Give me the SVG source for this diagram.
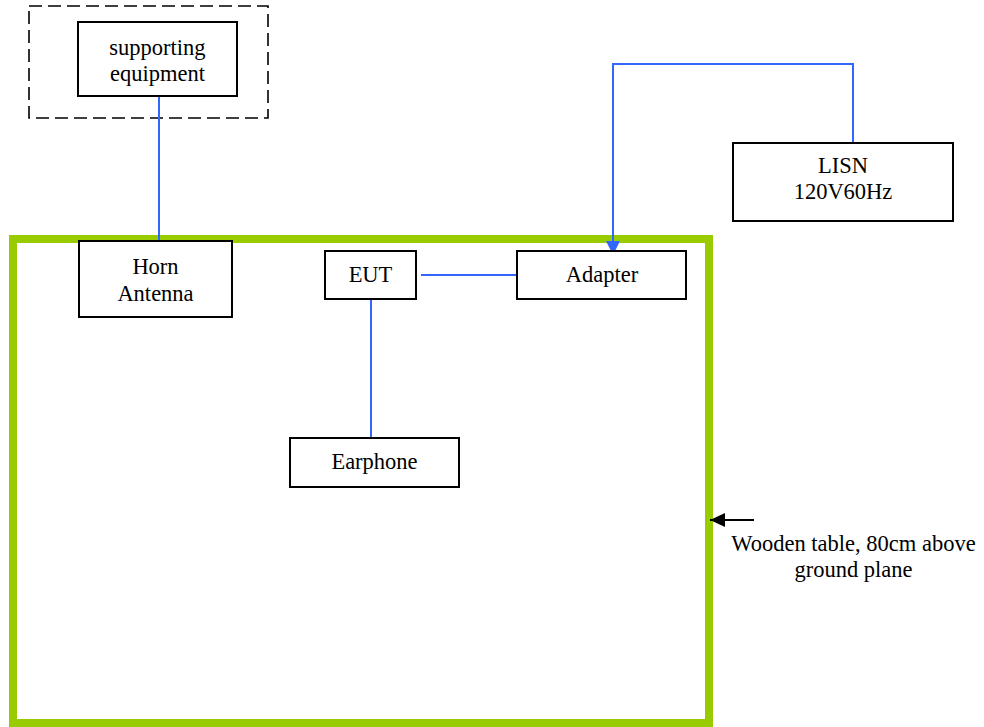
<svg xmlns="http://www.w3.org/2000/svg" width="984" height="727" viewBox="0 0 984 727">
<style>
.box{fill:#fff;stroke:#000;stroke-width:2}
.t{font-family:"Liberation Serif","Times New Roman",serif;font-size:22.5px;fill:#000;text-anchor:middle}
.c{fill:none;stroke:#3366FF;stroke-width:2}
</style>
<defs>
<marker id="ab" markerWidth="14" markerHeight="16" refX="14" refY="8" orient="auto" markerUnits="userSpaceOnUse">
<path d="M0,1 L14,8 L0,15 Z" fill="#3366FF"/>
</marker>
<marker id="ak" markerWidth="15" markerHeight="16" refX="15" refY="8" orient="auto" markerUnits="userSpaceOnUse">
<path d="M0,1 L15,8 L0,15 Z" fill="#000"/>
</marker>
</defs>
<rect width="984" height="727" fill="#fff"/>
<g id="table">
<rect x="13" y="239" width="696" height="484" fill="none" stroke="#99CC00" stroke-width="8"/>
</g>
<g id="support-area">
<rect x="29" y="6" width="239" height="112" fill="none" stroke="#000" stroke-width="1.6" stroke-dasharray="13,6"/>
</g>
<g id="connectors">
<line class="c" x1="159" y1="96" x2="159" y2="241"/>
<polyline class="c" points="853,143 853,64 613,64 613,255" marker-end="url(#ab)"/>
<line class="c" x1="421" y1="275" x2="517" y2="275"/>
<line class="c" x1="371" y1="299" x2="371" y2="438"/>
<line x1="754" y1="520" x2="710" y2="520" stroke="#000" stroke-width="2" marker-end="url(#ak)"/>
</g>
<g id="supporting-equipment">
<rect class="box" x="78" y="22" width="159" height="74"/>
<text class="t" x="157.5" y="55">supporting</text>
<text class="t" x="157.5" y="81">equipment</text>
</g>
<g id="horn-antenna">
<rect class="box" x="79" y="241" width="153" height="76"/>
<text class="t" x="155.5" y="274">Horn</text>
<text class="t" x="155.5" y="301">Antenna</text>
</g>
<g id="eut">
<rect class="box" x="325" y="251" width="91" height="48"/>
<text class="t" x="370.5" y="282">EUT</text>
</g>
<g id="adapter">
<rect class="box" x="517" y="251" width="169" height="48"/>
<text class="t" x="602" y="282">Adapter</text>
</g>
<g id="earphone">
<rect class="box" x="290" y="438" width="169" height="49"/>
<text class="t" x="374.5" y="469">Earphone</text>
</g>
<g id="lisn">
<rect class="box" x="733" y="143" width="220" height="78"/>
<text class="t" x="843" y="173">LISN</text>
<text class="t" x="843" y="199">120V60Hz</text>
</g>
<g id="table-label">
<text class="t" x="853.5" y="551">Wooden table, 80cm above</text>
<text class="t" x="853.5" y="577">ground plane</text>
</g>
</svg>
